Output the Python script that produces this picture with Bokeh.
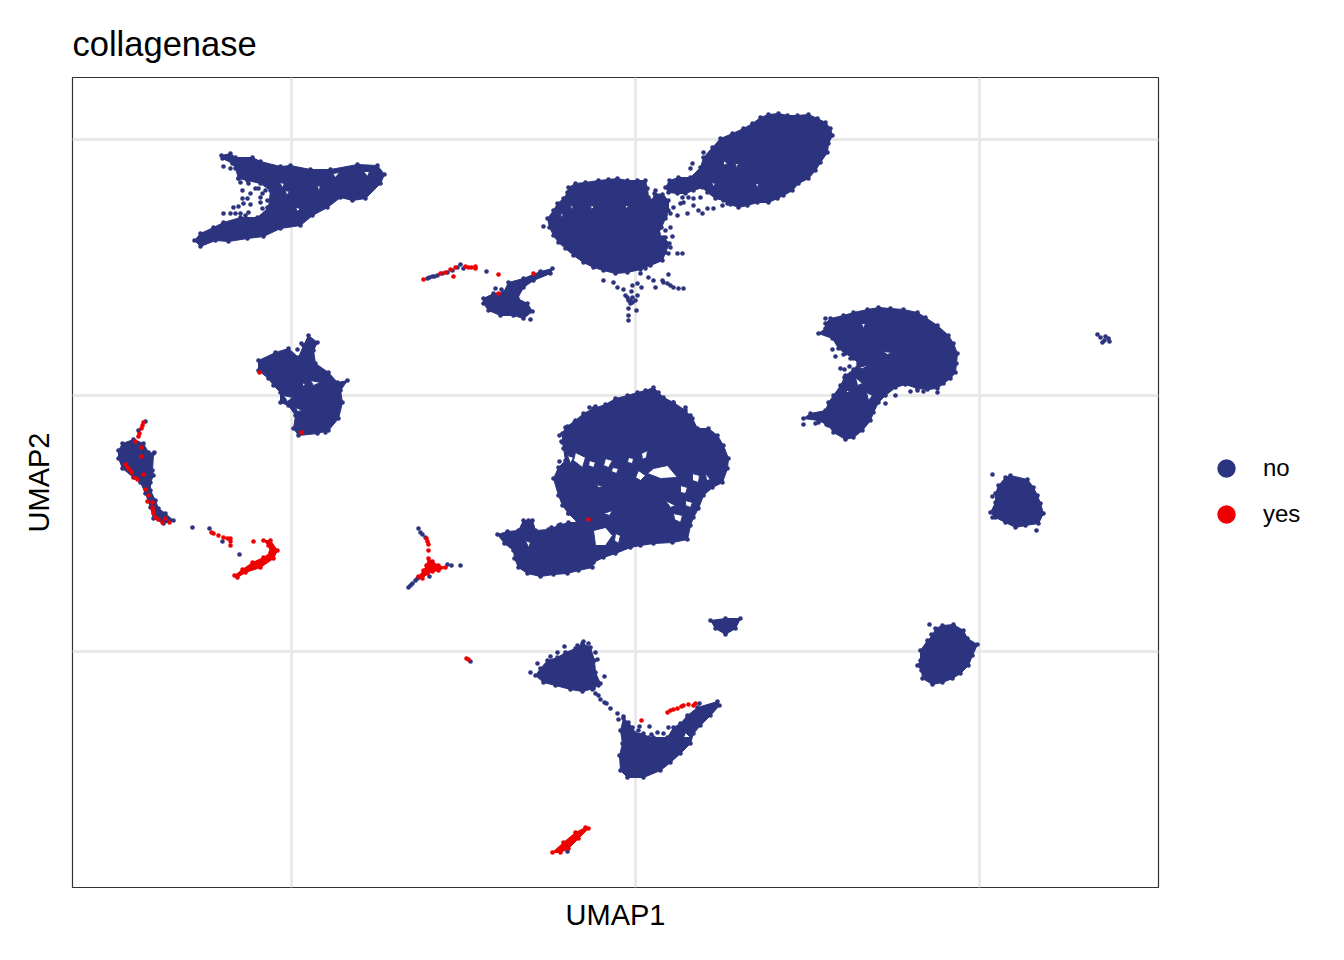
from bokeh.plotting import figure
from bokeh.embed import file_html
from bokeh.resources import INLINE
from bokeh.models import Legend, LegendItem, FixedTicker, Range1d

NAVY = "#2D347F"
RED = "#EE0000"

grid_x = [-344, 0, 344]
grid_y = [256, 0, -256]

# dense cluster outlines (UMAP coordinates, arbitrary scale)
blob_a = [(-414,240),(-405,242),(-400,238),(-383,238),(-375,234),(-355,229),(-345,230),(-325,226),(-305,226),(-278,231),(-258,230),(-251,221),(-255,212),(-270,197),(-283,195),(-295,198),(-308,188),(-323,180),(-335,170),(-355,167),(-372,159),(-388,157),(-407,154),(-420,155),(-435,149),(-441,155),(-435,162),(-422,168),(-412,173),(-395,178),(-378,178),(-367,188),(-365,205),(-375,212),(-388,215),(-397,217),(-400,227),(-403,232),(-413,237)]
blob_b1 = [(-67,208),(-60,212),(-50,213),(-37,215),(-27,216),(-18,217),(-8,215),(2,215),(10,215),(12,207),(13,198),(17,195),(19,202),(27,201),(33,195),(33,185),(30,177),(26,168),(23,162),(28,158),(34,152),(30,143),(27,135),(15,130),(5,126),(-8,123),(-20,122),(-32,125),(-42,128),(-52,133),(-62,140),(-70,147),(-77,153),(-82,160),(-86,168),(-88,177),(-82,185),(-78,192),(-72,197),(-68,203)]
blob_b2 = [(65,228),(68,238),(77,248),(85,257),(97,262),(108,267),(117,272),(125,278),(133,281),(143,282),(152,280),(162,280),(173,281),(182,277),(190,273),(195,267),(197,260),(193,252),(192,243),(185,233),(180,225),(173,217),(163,212),(157,205),(148,200),(142,197),(133,193),(122,193),(112,190),(103,188),(95,191),(88,195),(80,197),(72,203),(67,208),(58,205),(50,202),(42,202),(33,203),(30,208),(34,215),(43,218),(55,218)]
blob_c = [(-73,-38),(-70,-32),(-60,-25),(-52,-18),(-42,-13),(-30,-9),(-20,-3),(-8,0),(2,3),(10,5),(18,8),(23,3),(28,-2),(38,-7),(50,-15),(57,-23),(62,-33),(73,-33),(82,-40),(88,-50),(93,-63),(92,-73),(87,-87),(77,-92),(68,-100),(63,-113),(58,-122),(55,-130),(52,-144),(37,-147),(18,-148),(5,-150),(-5,-152),(-20,-158),(-32,-162),(-42,-167),(-43,-172),(-57,-175),(-68,-178),(-82,-179),(-95,-181),(-108,-178),(-117,-172),(-121,-163),(-122,-155),(-131,-148),(-138,-139),(-128,-136),(-117,-135),(-112,-125),(-103,-125),(-100,-135),(-87,-134),(-77,-130),(-67,-127),(-58,-127),(-67,-118),(-73,-110),(-77,-100),(-82,-83),(-77,-72),(-70,-65),(-72,-53),(-73,-47)]
blob_d = [(190,72),(195,77),(208,80),(218,83),(232,86),(243,88),(255,87),(268,86),(282,83),(290,78),(302,70),(313,60),(318,52),(322,42),(321,32),(320,23),(315,17),(308,12),(302,7),(292,6),(282,7),(270,11),(260,8),(250,0),(243,-7),(238,-17),(235,-25),(227,-35),(218,-42),(210,-44),(198,-37),(193,-30),(183,-25),(168,-23),(175,-18),(190,-15),(193,-7),(198,0),(205,10),(210,20),(218,26),(223,32),(218,37),(210,42),(203,47),(197,57),(183,62),(190,67)]
blob_e = [(-377,35),(-360,43),(-347,47),(-337,38),(-332,50),(-327,60),(-318,53),(-322,45),(-320,32),(-307,23),(-298,13),(-288,15),(-295,5),(-293,-7),(-297,-23),(-307,-35),(-318,-38),(-337,-40),(-342,-33),(-340,-20),(-347,-10),(-355,-7),(-355,3),(-362,10),(-367,17),(-377,25)]
blob_f = [(-517,-55),(-513,-48),(-502,-44),(-492,-48),(-487,-57),(-482,-58),(-483,-75),(-482,-80),(-485,-87),(-485,-95),(-480,-105),(-477,-113),(-470,-118),(-462,-125),(-472,-128),(-482,-123),(-485,-112),(-490,-98),(-495,-87),(-502,-82),(-513,-73),(-517,-63)]
blob_g = [(-152,97),(-142,102),(-132,103),(-127,113),(-112,117),(-95,124),(-83,127),(-85,122),(-102,115),(-112,108),(-118,97),(-108,92),(-103,84),(-112,77),(-122,80),(-135,80),(-147,85),(-152,92)]
blob_i1 = [(-100,-280),(-95,-273),(-88,-265),(-78,-262),(-70,-257),(-60,-253),(-53,-248),(-45,-252),(-41,-265),(-40,-277),(-35,-288),(-42,-293),(-53,-296),(-65,-294),(-80,-290),(-92,-287)]
blob_i2 = [(-15,-335),(-12,-323),(-7,-327),(-3,-332),(0,-338),(8,-338),(13,-342),(18,-342),(32,-342),(38,-332),(45,-328),(52,-320),(62,-312),(82,-306),(84,-310),(75,-320),(65,-330),(58,-338),(55,-348),(45,-358),(35,-367),(25,-375),(8,-382),(-8,-382),(-15,-375),(-16,-360),(-13,-348)]
blob_j = [(75,-225),(90,-223),(105,-223),(100,-233),(90,-239),(80,-233)]
blob_k = [(300,-233),(307,-230),(318,-229),(328,-235),(332,-243),(342,-249),(337,-260),(333,-270),(325,-278),(317,-283),(307,-287),(297,-289),(287,-283),(286,-275),(282,-270),(285,-265),(285,-255),(292,-245),(297,-240)]
blob_l = [(370,-82),(375,-80),(392,-84),(398,-92),(402,-100),(405,-108),(408,-118),(403,-128),(390,-130),(380,-132),(370,-127),(360,-122),(355,-117),(360,-107),(360,-98),(363,-90)]

# gaps inside the dense clusters
gaps_a = [[(-356,213),(-351,212),(-353,208)],[(-303,222),(-296,223),(-300,218)],[(-272,224),(-266,224),(-268,219)],[(-350,205),(-346,204),(-349,200)],[(-340,188),(-335,187),(-338,184)],[(-318,210),(-315,209),(-317,204)]]
gaps_b1 = [[(-65,190),(-62,189),(-64,186)],[(-45,190),(-41,189),(-44,186)],[(-75,182),(-72,181),(-74,178)],[(-10,190),(-7,190),(-9,186)]]
gaps_b2 = [[(88,235),(92,232),(88,230)],[(100,232),(103,232),(101,227)],[(120,212),(123,212),(122,207)],[(76,213),(80,212),(78,209)]]
gaps_c = [[(18,-73),(32,-70),(42,-82),(25,-83),(12,-78)],[(3,-75),(10,-80),(5,-85),(0,-82)],[(57,-78),(64,-80),(63,-87),(57,-85)],[(45,-90),(52,-92),(50,-98),(45,-97)],[(50,-105),(57,-107),(55,-112),(50,-110)],[(38,-118),(47,-120),(45,-127),(39,-124)],[(-42,-135),(-30,-132),(-23,-140),(-30,-150),(-40,-150)],[(-20,-138),(-15,-140),(-17,-148),(-21,-145)],[(-60,-57),(-50,-62),(-53,-72),(-62,-65)],[(-30,-63),(-23,-65),(-27,-72),(-32,-70)],[(-23,-72),(-17,-73),(-19,-78),(-24,-76)],[(-46,-65),(-40,-67),(-42,-72),(-47,-70)],[(-7,-62),(-2,-63),(-3,-68),(-8,-67)],[(6,-58),(12,-55),(11,-62),(7,-64)],[(30,-105),(40,-110),(35,-112)],[(-110,-145),(-105,-147),(-107,-152)],[(-39,-89),(-32,-91),(-37,-92)],[(-32,-118),(-23,-115),(-26,-120)],[(70,-78),(75,-84),(71,-85)],[(-68,-60),(-62,-62),(-65,-68)]]
gaps_d = [[(220,18),(227,12),(222,10)],[(226,72),(230,72),(228,67)],[(247,44),(257,43),(252,41)],[(231,3),(237,0),(233,-5)],[(223,28),(235,31),(227,27)],[(210,5),(215,5),(212,3)]]
gaps_e = [[(-352,0),(-343,-2),(-348,-6)],[(-325,15),(-315,13),(-322,10)],[(-340,-12),(-333,-15),(-338,-16)],[(-333,13),(-330,11),(-333,9)]]
gaps_i2 = [[(48,-342),(55,-342),(50,-337)]]

# separate "no" cells
no_a = [(-393,205),(-393,197),(-388,197),(-385,202),(-392,192),(-385,191),(-402,188),(-397,189),(-412,182),(-405,182),(-400,182),(-395,182),(-387,183),(-390,180),(-375,193),(-373,187),(-368,188),(-377,207),(-373,202),(-412,229),(-405,227),(-387,220),(-380,217),(-373,215),(-377,223),(-397,217),(-395,213),(-387,212),(-380,207),(-368,195),(-370,205),(-375,198),(-365,212),(-367,217),(-378,215)]
no_b = [(57,232),(55,227),(68,243),(20,205),(45,192),(52,182),(63,185),(67,182),(72,187),(78,187),(87,190),(92,192),(48,193),(38,188),(42,180),(58,190),(65,198),(53,198),(35,168),(30,165),(30,158),(37,159),(35,148),(42,142),(47,142),(33,142),(10,127),(5,122),(13,118),(-32,115),(-22,113),(-18,108),(-12,106),(-3,110),(2,112),(6,108),(-4,104),(33,121),(18,115),(20,108),(27,115),(32,112),(38,108),(43,107),(48,107),(28,113),(35,110),(-8,98),(-3,98),(2,100),(-5,92),(0,95),(-7,87),(1,85),(-7,80),(-7,75),(-10,100),(-5,95),(-7,95),(-3,93),(28,188),(35,182),(30,180),(47,198),(58,197),(28,198),(23,195),(-92,169)]
no_c = [(-76,-40),(-74,-46),(-68,-31),(-61,-27),(-46,-12),(-40,-11),(-76,-66),(-67,-118),(-75,-129),(-84,-132),(-107,-125),(-103,-132),(55,-20),(50,-12),(38,-7)]
no_d = [(190,77),(197,46),(200,39),(208,41),(215,37),(205,27),(209,26),(214,29),(209,18),(168,-29),(180,-28),(183,-27),(191,-29),(260,0),(275,4),(282,5),(288,4),(302,3),(250,-8),(247,0)]
no_e = [(-338,46),(-334,52),(-310,-37)]
no_f = [(-481,-57),(-443,-132),(-426,-133),(-396,-159),(-490,-26),(-497,-35),(-413,-146)]
no_g = [(-208,117),(-203,119),(-198,120),(-188,123),(-178,128),(-175,131),(-172,127),(-149,124),(-140,107),(-134,106),(-105,76),(-206,118),(-201,119),(-193,122),(-183,125)]
no_h = [(-217,-133),(-215,-137),(-213,-139),(-210,-142),(-227,-192),(-225,-190),(-223,-188),(-220,-185),(-218,-183),(-217,-182),(-213,-180),(-206,-181),(-188,-169),(-184,-170),(-175,-170),(-165,-266)]
no_i = [(-105,-277),(-98,-268),(-85,-261),(-78,-257),(-71,-251),(-58,-250),(-52,-246),(-47,-248),(-40,-257),(-38,-264),(-31,-281),(-37,-290),(-43,-294),(-40,-298),(-37,-300),(-35,-304),(-31,-307),(-29,-308),(-25,-313),(-18,-318),(-17,-324),(-12,-321),(4,-331),(14,-331),(22,-337),(33,-332),(52,-322),(64,-308),(3,-335),(28,-338),(16,-339),(-68,-456)]
no_misc = [(357,-79),(401,-135),(357,-101),(357,-122),(294,-229),(296,-239),(462,61),(465,58),(469,55),(473,57),(470,59),(467,53),(474,54)]

# dense "yes" streaks
yes_crescent = [(-372,-145),(-365,-145),(-358,-155),(-362,-163),(-375,-172),(-390,-177),(-398,-182),(-401,-180),(-393,-174),(-383,-167),(-372,-162),(-365,-157),(-367,-150)]
yes_star = [(-207,-163),(-203,-166),(-197,-170),(-190,-172),(-197,-175),(-203,-176),(-208,-178),(-213,-183),(-217,-181),(-212,-175),(-209,-170)]
yes_streak = [(-83,-457),(-72,-447),(-60,-437),(-50,-432),(-47,-433),(-57,-443),(-67,-453),(-75,-457)]

# separate "yes" cells
yes_f = [(-492,-27),(-493,-30),(-494,-33),(-496,-38),(-497,-41),(-500,-46),(-494,-52),(-494,-61),(-510,-69),(-508,-72),(-506,-74),(-504,-77),(-501,-82),(-498,-84),(-492,-79),(-490,-94),(-487,-100),(-488,-106),(-483,-107),(-483,-112),(-482,-115),(-482,-118),(-480,-122),(-477,-124),(-473,-127),(-470,-123),(-466,-127),(-424,-137),(-422,-138),(-417,-140),(-412,-142),(-408,-143),(-405,-143),(-405,-146),(-405,-150),(-382,-146)]
yes_g = [(-212,116),(-195,122),(-190,123),(-185,126),(-180,128),(-170,129),(-167,128),(-164,128),(-160,129),(-160,127),(-182,119),(-137,121),(-137,102),(-102,122)]
yes_h = [(-209,-143),(-208,-146),(-207,-149),(-207,-155),(-169,-263),(-167,-264)]
yes_i = [(6,-325),(32,-317),(35,-315),(38,-314),(42,-313),(46,-311),(48,-310),(53,-309),(58,-310),(60,-308)]
yes_misc = [(-47,-124),(-334,-37),(-376,23)]

no_blobs = [(blob_a,gaps_a),(blob_b1,gaps_b1),(blob_b2,gaps_b2),(blob_c,gaps_c),(blob_d,gaps_d),(blob_e,gaps_e),(blob_f,[]),(blob_g,[]),(blob_i1,[]),(blob_i2,gaps_i2),(blob_j,[]),(blob_k,[]),(blob_l,[])]
yes_blobs = [(yes_crescent,[]),(yes_star,[]),(yes_streak,[])]
no_cells = no_a+no_b+no_c+no_d+no_e+no_f+no_g+no_h+no_i+no_misc
yes_cells = yes_f+yes_g+yes_h+yes_i+yes_misc
categories = ["no", "yes"]

def rings(blobs):
    xs, ys = [], []
    for outline, gaps in blobs:
        rx = [[a for a, _ in outline]] + [[a for a, _ in g] for g in gaps]
        ry = [[b for _, b in outline]] + [[b for _, b in g] for g in gaps]
        xs.append([rx]); ys.append([ry])
    return xs, ys

p = figure(frame_width=1086, frame_height=810, output_backend="svg", toolbar_location=None,
           x_range=Range1d(-563, 523), y_range=Range1d(-492, 318),
           min_border_left=72, min_border_right=186, min_border_top=77, min_border_bottom=60,
           title="collagenase", background_fill_color="white", border_fill_color="white")
p.title.text_font = "Liberation Sans"; p.title.text_font_size = "34.5px"; p.title.text_font_style = "normal"
p.title.text_color = "#000000"; p.title.offset = 0; p.title.standoff = 29
p.outline_line_color = "#333333"; p.outline_line_width = 1.2

for ax, ticks, lab in ((p.xaxis[0], grid_x, "UMAP1"), (p.yaxis[0], grid_y, "UMAP2")):
    ax.ticker = FixedTicker(ticks=ticks)
    ax.axis_label = lab
    ax.axis_label_text_font = "Liberation Sans"; ax.axis_label_text_font_size = "29px"
    ax.axis_label_text_font_style = "normal"; ax.axis_label_text_color = "#000000"
    ax.major_label_text_font_size = "0px"; ax.major_label_text_color = None
    ax.major_tick_line_color = None; ax.minor_tick_line_color = None; ax.axis_line_color = None
    ax.major_label_standoff = 0
p.xaxis[0].axis_label_standoff = 5
p.yaxis[0].axis_label_standoff = 12
for g in (p.xgrid[0], p.ygrid[0]):
    g.grid_line_color = "#E9E9E9"; g.grid_line_width = 2.8

DOT = 4.6
for blobs, cells, col in ((no_blobs, no_cells, NAVY), (yes_blobs, yes_cells, RED)):
    xs, ys = rings(blobs)
    p.multi_polygons(xs=xs, ys=ys, fill_color=col, line_color=col, line_width=1)
    vert = [pt for o, _ in blobs for pt in o] + cells
    p.scatter([a for a, _ in vert], [b for _, b in vert], size=DOT, color=col, line_width=0)

k0 = p.scatter([float("nan")], [float("nan")], size=24, color=NAVY, line_width=0)
k1 = p.scatter([float("nan")], [float("nan")], size=24, color=RED, line_width=0)
leg = Legend(items=[LegendItem(label=categories[0], renderers=[k0]), LegendItem(label=categories[1], renderers=[k1])],
             location=(45, 350), border_line_color=None, background_fill_alpha=0, spacing=0,
             label_text_font="Liberation Sans", label_text_font_size="24px", label_text_color="#000000", label_standoff=14,
             glyph_width=46, glyph_height=46, label_height=46, margin=0, padding=0)
p.add_layout(leg, "right")

open("out.html", "w").write(file_html(p, INLINE))
